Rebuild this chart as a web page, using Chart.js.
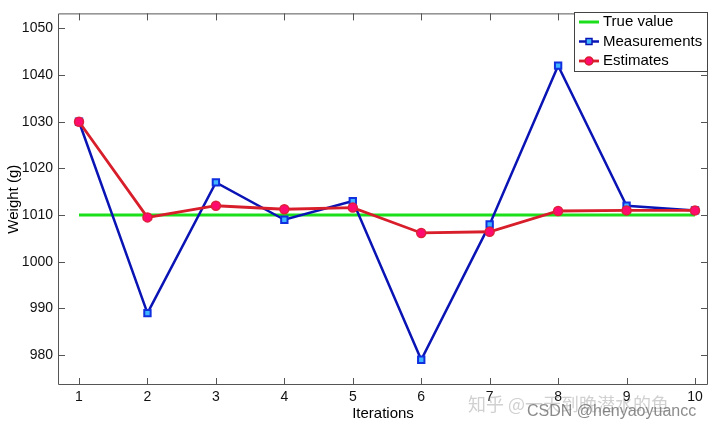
<!DOCTYPE html>
<html>
<head>
<meta charset="utf-8">
<script src="https://cdn.jsdelivr.net/npm/chart.js@4/dist/chart.umd.min.js"></script>
<style>
	html, body { margin: 0; padding: 0; background: #fff; }
	#wrap { width: 720px; height: 428px; }
</style>
</head>
<body>
<div id="wrap"><canvas id="Graphe"></canvas></div>
<script>
// data
var iterations = [1, 2, 3, 4, 5, 6, 7, 8, 9, 10];
var trueValue = [1010, 1010, 1010, 1010, 1010, 1010, 1010, 1010, 1010, 1010];
var measurements = [1030, 989, 1017, 1009, 1013, 979, 1008, 1042, 1012, 1011];
var estimates = [1030, 1009.5, 1012, 1011.25, 1011.6, 1006.17, 1006.43, 1010.87, 1011, 1011];
var yTicks = [980, 990, 1000, 1010, 1020, 1030, 1040, 1050];
var legendNames = ['True value', 'Measurements', 'Estimates'];

var fontName = '"Liberation Sans", Arial, sans-serif';

function pts(values) {
	return values.map(function (v, i) { return { x: iterations[i], y: v }; });
}

// MATLAB style box with inward ticks on all sides
var boxTicks = {
	id: 'boxTicks',
	afterDraw: function (chart) {
		var ctx = chart.ctx;
		var a = chart.chartArea;
		var xs = chart.scales.x;
		var ys = chart.scales.y;
		ctx.save();
		ctx.strokeStyle = '#555';
		ctx.lineWidth = 1;
		ctx.beginPath();
		ctx.rect(a.left + 0.5, a.top + 0.5, a.right - a.left - 1, a.bottom - a.top - 1);
		iterations.forEach(function (v) {
			var px = Math.round(xs.getPixelForValue(v)) + 0.5;
			ctx.moveTo(px, a.bottom); ctx.lineTo(px, a.bottom - 7);
			ctx.moveTo(px, a.top); ctx.lineTo(px, a.top + 7);
		});
		yTicks.forEach(function (v) {
			var py = Math.round(ys.getPixelForValue(v)) + 0.5;
			ctx.moveTo(a.left, py); ctx.lineTo(a.left + 7, py);
			ctx.moveTo(a.right, py); ctx.lineTo(a.right - 7, py);
		});
		ctx.stroke();

		// legend box
		var lx = 574, ly = 12, lw = a.right - lx, lh = 60;
		ctx.fillStyle = '#fff';
		ctx.fillRect(lx, ly, lw, lh);
		ctx.strokeStyle = '#444';
		ctx.strokeRect(lx + 0.5, ly + 0.5, lw - 1, lh - 1);
		var ds = chart.data.datasets;
		ctx.font = '15px ' + fontName;
		ctx.textBaseline = 'middle';
		for (var i = 0; i < 3; i++) {
			var y = ly + 10 + i * 19.5;
			ctx.strokeStyle = ds[i].borderColor;
			ctx.lineWidth = ds[i].borderWidth;
			ctx.beginPath();
			ctx.moveTo(579, y); ctx.lineTo(599, y);
			ctx.stroke();
			if (i == 1) {
				ctx.fillStyle = ds[i].pointBackgroundColor;
				ctx.lineWidth = 1.5;
				ctx.fillRect(586, y - 3, 6, 6);
				ctx.strokeRect(586, y - 3, 6, 6);
			}
			if (i == 2) {
				ctx.fillStyle = ds[i].pointBackgroundColor;
				ctx.lineWidth = 1.5;
				ctx.beginPath();
				ctx.arc(589, y, 4, 0, Math.PI * 2);
				ctx.fill(); ctx.stroke();
			}
			ctx.fillStyle = '#000';
			ctx.fillText(legendNames[i], 603, y);
		}

		// watermarks
		ctx.textBaseline = 'alphabetic';
		ctx.fillStyle = 'rgba(150,150,150,0.45)';
		ctx.font = '18px "Noto Sans CJK SC", sans-serif';
		ctx.fillText('知乎 @一天到晚潜水的鱼', 468, 411);
		ctx.fillStyle = 'rgba(110,110,110,0.8)';
		ctx.font = '16px ' + fontName;
		ctx.fillText('CSDN @henyaoyuancc', 527, 416);
		ctx.restore();
	}
};

var chart = new Chart(document.getElementById('Graphe'), {
	type: 'line',
	data: {
		datasets: [
			{
				label: legendNames[0],
				data: pts(trueValue),
				borderColor: '#1adf1a',
				borderWidth: 3,
				pointRadius: 0,
				order: 2,
			},
			{
				label: legendNames[1],
				data: pts(measurements),
				borderColor: '#0a14b4',
				borderWidth: 2.5,
				pointStyle: 'rect',
				pointRadius: 4.5,
				pointBackgroundColor: '#3fb6ff',
				pointBorderColor: '#1030e0',
				pointBorderWidth: 2,
				order: 1,
			},
			{
				label: legendNames[2],
				data: pts(estimates),
				borderColor: '#d81e2a',
				borderWidth: 2.8,
				pointStyle: 'circle',
				pointRadius: 4.5,
				pointBackgroundColor: '#ff0a6e',
				pointBorderColor: '#e0203a',
				pointBorderWidth: 1.5,
				order: 0,
			},
		],
	},
	options: {
		responsive: true,
		maintainAspectRatio: false,
		animation: false,
		layout: { padding: { left: 0, right: 12, top: 12, bottom: 0 } },
		plugins: {
			legend: { display: false },
			tooltip: { enabled: false },
		},
		scales: {
			x: {
				type: 'linear',
				min: 0.693,
				max: 10.19,
				afterBuildTicks: function (scale) {
					scale.ticks = iterations.map(function (v) { return { value: v }; });
				},
				afterFit: function (scale) { scale.height = 43; },
				grid: { display: false, drawTicks: false },
				border: { display: false },
				ticks: {
					color: '#111',
					padding: 4,
					maxRotation: 0,
					font: { family: fontName, size: 14 },
					callback: function (v) { return String(v); },
				},
				title: {
					display: true,
					text: 'Iterations',
					color: '#000',
					padding: { top: 0, bottom: 5 },
					font: { family: fontName, size: 15 },
				},
			},
			y: {
				min: 973.6,
				max: 1053.2,
				afterBuildTicks: function (scale) {
					scale.ticks = yTicks.map(function (v) { return { value: v }; });
				},
				afterFit: function (scale) { scale.width = 58; },
				grid: { display: false, drawTicks: false },
				border: { display: false },
				ticks: {
					color: '#111',
					padding: 5,
					font: { family: fontName, size: 14 },
					callback: function (v) { return String(v); },
				},
				title: {
					display: true,
					text: 'Weight (g)',
					color: '#000',
					padding: { top: 5, bottom: 0 },
					font: { family: fontName, size: 15 },
				},
			},
		},
	},
	plugins: [boxTicks],
});
</script>
</body>
</html>
